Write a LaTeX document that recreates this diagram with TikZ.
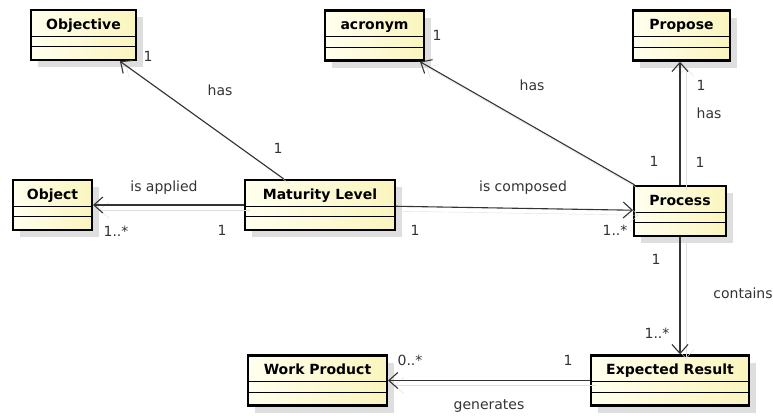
\documentclass[tikz,border=0pt]{standalone}
\usepackage{fontspec}
\setmainfont{DejaVu Sans}
\usetikzlibrary{arrows.meta,shadows}

\definecolor{classleft}{RGB}{255,255,238}
\definecolor{classright}{RGB}{250,245,190}
\definecolor{shadowgray}{RGB}{222,222,222}
\definecolor{linegray}{RGB}{51,51,51}

\tikzset{
  umlclass/.style={draw=black, line width=2.4pt, rectangle,
    left color=classleft, right color=classright,
    minimum height=50pt, inner xsep=0pt, inner ysep=0pt,
    text height=19pt, text depth=31pt,
    font=\fontsize{14}{16}\selectfont\bfseries,
    general shadow={fill=shadowgray, shadow xshift=7pt, shadow yshift=-7pt},
    path picture={
      \draw[line width=1pt] ([yshift=-26pt]path picture bounding box.north west)
        -- ([yshift=-26pt]path picture bounding box.north east);
      \draw[line width=1pt] ([yshift=-36.5pt]path picture bounding box.north west)
        -- ([yshift=-36.5pt]path picture bounding box.north east);
    }},
  assoc/.style={-{Straight Barb[length=9pt,width=16pt]}, line width=1.1pt, draw=linegray,
    preaction={draw=shadowgray, transform canvas={shift={(6,5)}}}},
  mult/.style={font=\fontsize{14}{16}\selectfont, text=linegray, inner sep=0pt}
}

\begin{document}
\begin{tikzpicture}[x=1pt,y=-1pt]
  \useasboundingbox (0,0) rectangle (773,415);

  % classes
  \node (objective) at (83.5,35)   [umlclass, minimum width=104.6pt] {Objective};
  \node (acronym)   at (374.5,35.5) [umlclass, minimum width=98.6pt] {acronym};
  \node (propose)   at (681.5,35.5) [umlclass, minimum width=96.6pt] {Propose};
  \node (object)    at (52.5,205)  [umlclass, minimum width=78.6pt] {Object};
  \node (maturity)  at (320,205)   [umlclass, minimum width=149.6pt] {Maturity Level};
  \node (process)   at (680,211)   [umlclass, minimum width=91.6pt] {Process};
  \node (work)      at (317.5,380.5) [umlclass, minimum width=138.6pt] {Work Product};
  \node (result)    at (670,380.5) [umlclass, minimum width=157.6pt] {Expected Result};

  % associations
  \draw[assoc] (maturity) -- (objective);
  \draw[assoc] (process) -- (acronym);
  \draw[assoc] (process.north) -- (process.north |- propose.south);
  \draw[assoc] (maturity) -- (process);
  \draw[assoc] (maturity) -- (object);
  \draw[assoc] (process.south) -- (process.south |- result.north);
  \draw[assoc] (result) -- (work);

  % labels and multiplicities
  \node (hasObjective) at (220,90)  [mult] {has};
  \node (mObjective)   at (148,56)  [mult] {1};
  \node (mMatObj)      at (278,148) [mult] {1};
  \node (hasAcronym)   at (532,85)  [mult] {has};
  \node (mAcronym)     at (437,35)  [mult] {1};
  \node (mProcAcr)     at (654,161) [mult] {1};
  \node (hasPropose)   at (709,113) [mult] {has};
  \node (mPropose)     at (701,85)  [mult] {1};
  \node (mProcProp)    at (700,162) [mult] {1};
  \node (composed)     at (523,188) [mult] {is composed};
  \node (mMatProc)     at (415,230) [mult] {1};
  \node (mProcess)     at (615,230) [mult] {1..*};
  \node (applied)      at (164,188) [mult] {is applied};
  \node (mObject)      at (116,231) [mult] {1..*};
  \node (mMatObject)   at (222,230) [mult] {1};
  \node (contains)     at (743,293) [mult] {contains};
  \node (mProcRes)     at (656,259) [mult] {1};
  \node (mResult)      at (657,333) [mult] {1..*};
  \node (generates)    at (489,406) [mult] {generates};
  \node (mWork)        at (410,360) [mult] {0..*};
  \node (mResWork)     at (568,360) [mult] {1};
\end{tikzpicture}
\end{document}
